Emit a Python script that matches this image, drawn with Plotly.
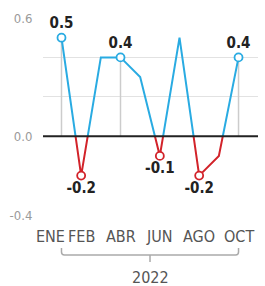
import plotly.graph_objects as go

months = ["ENE", "FEB", "MAR", "ABR", "MAY", "JUN", "JUL", "AGO", "SEP", "OCT"]
values = [0.5, -0.2, 0.4, 0.4, 0.3, -0.1, 0.5, -0.2, -0.1, 0.4]
labeled = ["ENE", "FEB", "ABR", "JUN", "AGO", "OCT"]
year_label = "2022"
y_tick_vals = [-0.4, -0.2, 0.0, 0.2, 0.4, 0.6]
y_tick_text = ["-0.4", "", "0.0", "", "", "0.6"]

BLUE = "#29abe2"
RED = "#d2232a"
FONT = "DejaVu Sans Condensed, Liberation Sans Narrow, Roboto, sans-serif"

xs = list(range(len(months)))
ymin, ymax = y_tick_vals[0], y_tick_vals[-1]
zero_frac = (0 - ymin) / (ymax - ymin)

fig = go.Figure()

for m in labeled:
    i = months.index(m)
    v = values[i]
    fig.add_trace(go.Scatter(x=[i, i], y=[max(v, 0), ymin], mode="lines",
                             line=dict(color="#cccccc", width=1.5),
                             hoverinfo="skip", showlegend=False))

fig.add_trace(go.Scatter(x=xs, y=values, mode="lines",
                         line=dict(color=BLUE, width=2),
                         hoverinfo="skip", showlegend=False))
fig.add_trace(go.Scatter(x=xs, y=values, mode="lines", yaxis="y2",
                         line=dict(color=RED, width=2),
                         hoverinfo="skip", showlegend=False))

for m in labeled:
    i = months.index(m)
    v = values[i]
    neg = v < 0
    fig.add_trace(go.Scatter(
        x=[i], y=[v], mode="markers+text",
        yaxis="y2" if neg else "y",
        marker=dict(size=8, color="white", line=dict(color=RED if neg else BLUE, width=1.8)),
        text=[f"{v:.1f}"], textposition="bottom center" if neg else "top center",
        textfont=dict(family=FONT, size=15, color="#222", weight="bold"),
        cliponaxis=False, hoverinfo="skip", showlegend=False))

for m in labeled:
    i = months.index(m)
    fig.add_annotation(x=i, y=-0.107, xref="x", yref="paper", text=m,
                       showarrow=False, xshift=-11 if m == "ENE" else 0,
                       font=dict(family=FONT, size=16, color="#555"),
                       xanchor="center", yanchor="middle")

n = len(months) - 1
yt, yb, yc = -0.1675, -0.203, -0.2386
rx, ry = 0.15, 0.015
fig.add_shape(type="path", xref="x", yref="paper",
              path=f"M 0,{yt} L 0,{yb+ry} Q 0,{yb} {rx},{yb} L {n-rx},{yb} Q {n},{yb} {n},{yb+ry} L {n},{yt}",
              line=dict(color="#aaaaaa", width=1.5))
fig.add_shape(type="line", xref="x", yref="paper", x0=n / 2, x1=n / 2, y0=yb, y1=yc,
              line=dict(color="#aaaaaa", width=1.5))
fig.add_annotation(x=n / 2, y=-0.315, xref="x", yref="paper", text=year_label,
                   showarrow=False, font=dict(family=FONT, size=16, color="#555"),
                   xanchor="center", yanchor="middle")

fig.add_shape(type="line", xref="paper", yref="y", x0=0, x1=1, y0=0, y1=0,
              line=dict(color="#222", width=2), layer="above")

fig.update_layout(
    width=265, height=286, autosize=False,
    margin=dict(l=43, r=7, t=18, b=71),
    paper_bgcolor="white", plot_bgcolor="white",
    xaxis=dict(range=[-0.94, 9.99], showgrid=False, zeroline=False,
               showticklabels=False, ticks=""),
    yaxis=dict(range=[ymin, ymax], domain=[0, 1], tickvals=y_tick_vals,
               ticktext=y_tick_text, showgrid=True, gridcolor="#e2e2e2",
               gridwidth=1, zeroline=False, ticks="outside", ticklen=0,
               ticklabelstandoff=7,
               tickfont=dict(family=FONT, size=13, color="#9a9a9a")),
    yaxis2=dict(range=[ymin, 0], domain=[0, zero_frac], anchor="x",
                visible=False, showgrid=False, zeroline=False),
    font=dict(family=FONT),
)

fig.write_html("out.html", config={"displayModeBar": False},
               post_script="document.body.style.margin='0';")
